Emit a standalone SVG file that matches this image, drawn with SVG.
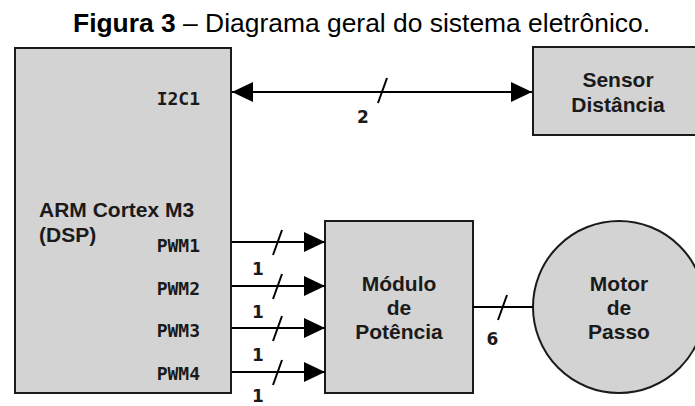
<svg xmlns="http://www.w3.org/2000/svg" width="695" height="406" viewBox="0 0 695 406">
<style>
.box{fill:#d3d3d3;stroke:#1a1a1a;stroke-width:2}
.lbl{font-family:"Liberation Sans",Arial,sans-serif;font-weight:bold;font-size:21px;fill:#1a1a1a}
.mono{font-family:"DejaVu Sans Mono",monospace;font-weight:bold;font-size:18px;fill:#1a1a1a;text-anchor:end}
.num{font-family:"DejaVu Sans",sans-serif;font-weight:bold;font-size:17px;fill:#1a1a1a;text-anchor:middle}
.wire{stroke:#000;stroke-width:2;fill:none}
.slash{stroke:#000;stroke-width:2}
.mid{text-anchor:middle}
</style>
<defs>
<marker id="arr" markerUnits="userSpaceOnUse" markerWidth="22" markerHeight="20" refX="21" refY="10" orient="auto-start-reverse">
<path d="M0,0 L21,10 L0,20 Z" fill="#000"/>
</marker>
</defs>
<rect width="695" height="406" fill="#fff"/>
<text x="73" y="32" font-family="Liberation Sans,Arial,sans-serif" font-size="26" fill="#000" textLength="577" lengthAdjust="spacingAndGlyphs"><tspan font-weight="bold">Figura 3</tspan> – Diagrama geral do sistema eletrônico.</text>
<g id="arm">
<rect class="box" x="15" y="48" width="216" height="345"/>
<text class="lbl" x="39" y="217">ARM Cortex M3</text>
<text class="lbl" x="39" y="242">(DSP)</text>
<text class="mono" x="200" y="105">I2C1</text>
<text class="mono" x="200" y="252">PWM1</text>
<text class="mono" x="200" y="295">PWM2</text>
<text class="mono" x="200" y="337">PWM3</text>
<text class="mono" x="200" y="380">PWM4</text>
</g>
<g id="sensor">
<rect class="box" x="533" y="47" width="170" height="88"/>
<text class="lbl mid" x="618" y="87">Sensor</text>
<text class="lbl mid" x="618" y="112">Distância</text>
</g>
<g id="modulo">
<rect class="box" x="325" y="221" width="148" height="172"/>
<text class="lbl mid" x="399" y="291">Módulo</text>
<text class="lbl mid" x="399" y="315">de</text>
<text class="lbl mid" x="399" y="339">Potência</text>
</g>
<g id="motor">
<circle class="box" cx="619" cy="307" r="86"/>
<text class="lbl mid" x="619" y="291">Motor</text>
<text class="lbl mid" x="619" y="315">de</text>
<text class="lbl mid" x="619" y="339">Passo</text>
</g>
<g id="connectors">
<line class="wire" x1="232" y1="92" x2="532" y2="92" marker-start="url(#arr)" marker-end="url(#arr)"/>
<line class="slash" x1="378" y1="103" x2="387" y2="78"/>
<text class="num" x="363" y="123">2</text>
<line class="wire" x1="232" y1="242" x2="325" y2="242" marker-end="url(#arr)"/>
<line class="wire" x1="232" y1="286" x2="325" y2="286" marker-end="url(#arr)"/>
<line class="wire" x1="232" y1="328" x2="325" y2="328" marker-end="url(#arr)"/>
<line class="wire" x1="232" y1="372" x2="325" y2="372" marker-end="url(#arr)"/>
<line class="slash" x1="273" y1="255" x2="282" y2="230"/>
<line class="slash" x1="273" y1="299" x2="282" y2="274"/>
<line class="slash" x1="273" y1="341" x2="282" y2="316"/>
<line class="slash" x1="273" y1="385" x2="282" y2="360"/>
<text class="num" x="258" y="275">1</text>
<text class="num" x="258" y="318">1</text>
<text class="num" x="258" y="361">1</text>
<text class="num" x="258" y="402">1</text>
<line class="wire" x1="473" y1="307" x2="533" y2="307"/>
<line class="slash" x1="498" y1="320" x2="507" y2="295"/>
<text class="num" x="492.5" y="345">6</text>
</g>
</svg>
